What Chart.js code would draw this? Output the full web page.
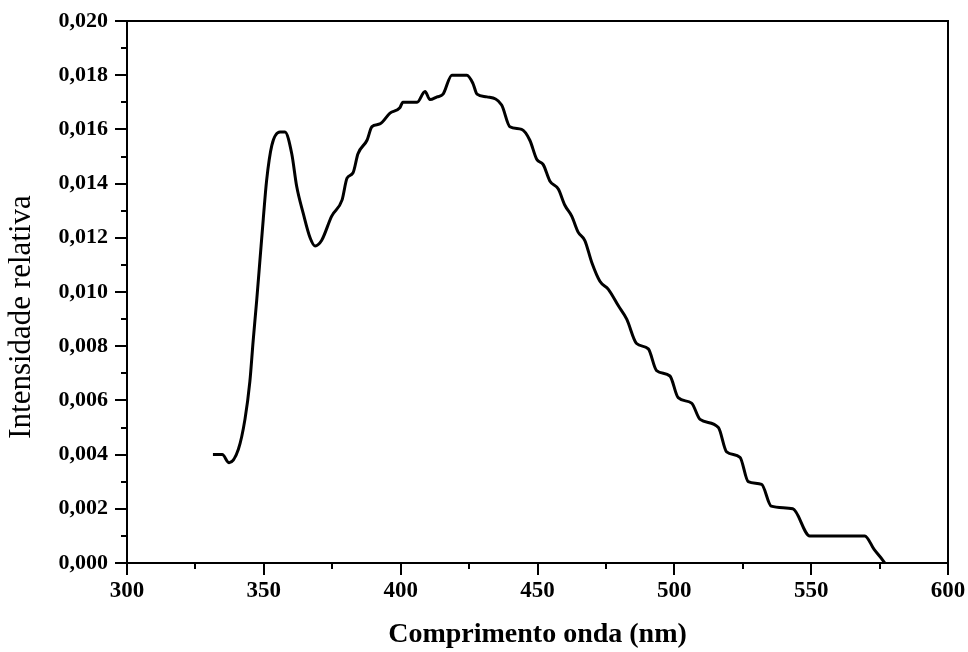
<!DOCTYPE html>
<html>
<head>
<meta charset="utf-8">
<script src="https://cdn.jsdelivr.net/npm/chart.js@4"></script>
<style>
  html, body { margin: 0; padding: 0; background: #fff; }
  #wrap { width: 968px; height: 652px; }
</style>
</head>
<body>
<div id="wrap"><canvas id="spectrum"></canvas></div>
<script>
const wavelength = [
  331.4, 334.8, 337.3, 340.7, 343.1, 344.9, 346.1, 347.4, 348.6, 349.8,
  351.0, 352.9, 355.9, 357.7, 360.2, 362.0, 364.4, 366.9, 368.7, 371.1,
  374.8, 378.6, 380.4, 382.6, 384.4, 387.7, 389.5, 392.4, 396.1, 399.7,
  400.8, 406.0, 408.9, 410.7, 413.3, 415.5, 418.7, 424.2, 426.4, 427.9,
  431.5, 436.9, 439.9, 444.2, 447.2, 449.7, 452.1, 454.5, 457.6, 460.0,
  462.5, 464.9, 467.3, 469.8, 472.8, 475.9, 479.5, 482.6, 486.2, 490.5,
  493.5, 498.4, 501.4, 506.3, 509.4, 516.1, 519.1, 524.0, 527.0, 531.9,
  535.4, 543.3, 549.5, 569.6, 573.0, 576.2, 576.9
];
const intensity = [
  0.0040, 0.0040, 0.0037, 0.0042, 0.0053, 0.0067, 0.0082, 0.0097, 0.0112, 0.0127,
  0.0141, 0.0154, 0.0159, 0.0159, 0.0151, 0.0139, 0.0129, 0.0120, 0.0117, 0.0119,
  0.0128, 0.0134, 0.0142, 0.0144, 0.0151, 0.0156, 0.0161, 0.0162, 0.0166, 0.0168,
  0.0170, 0.0170, 0.0174, 0.0171, 0.0172, 0.0173, 0.0180, 0.0180, 0.0177, 0.0173,
  0.0172, 0.0169, 0.0161, 0.0160, 0.0156, 0.0149, 0.0147, 0.0141, 0.0138, 0.0132,
  0.0128, 0.0122, 0.0119, 0.0111, 0.0104, 0.0101, 0.0095, 0.0090, 0.0081, 0.0079,
  0.0071, 0.0069, 0.0061, 0.0059, 0.0053, 0.0050, 0.0041, 0.0039, 0.0030, 0.0029,
  0.0021, 0.0020, 0.0010, 0.0010, 0.0005, 0.0001, 0.0
];

const xTitle = 'Comprimento onda (nm)';
const yTitle = 'Intensidade relativa';

const points = wavelength.map((w, i) => ({ x: w, y: intensity[i] }));

// box around the plot, outward major/minor ticks, rotated y title
const frame = {
  id: 'frame',
  afterDraw(chart) {
    const { ctx, chartArea: a, scales: { x, y } } = chart;
    ctx.save();
    ctx.strokeStyle = '#000';
    ctx.lineWidth = 2;
    ctx.strokeRect(a.left, a.top, a.right - a.left, a.bottom - a.top);
    ctx.beginPath();
    x.ticks.forEach(t => {
      const px = Math.round(x.getPixelForValue(t.value));
      const len = Math.round(t.value) % 50 === 0 ? 12 : 6;
      ctx.moveTo(px, a.bottom);
      ctx.lineTo(px, a.bottom + len);
    });
    y.ticks.forEach(t => {
      const py = Math.round(y.getPixelForValue(t.value));
      const len = Math.round(t.value * 1000) % 2 === 0 ? 12 : 6;
      ctx.moveTo(a.left, py);
      ctx.lineTo(a.left - len, py);
    });
    ctx.stroke();

    ctx.translate(22, 317);
    ctx.rotate(-Math.PI / 2);
    ctx.fillStyle = '#000';
    ctx.font = '31px "Liberation Serif"';
    ctx.textAlign = 'center';
    ctx.textBaseline = 'middle';
    ctx.fillText(yTitle, 0, 0);
    ctx.restore();
  }
};

new Chart(document.getElementById('spectrum'), {
  type: 'line',
  data: {
    datasets: [{
      data: points,
      borderColor: '#000',
      borderWidth: 3,
      pointRadius: 0,
      cubicInterpolationMode: 'monotone',
      fill: false
    }]
  },
  options: {
    responsive: true,
    maintainAspectRatio: false,
    animation: false,
    layout: { padding: { top: 21, right: 20, left: 0, bottom: 0 } },
    plugins: { legend: { display: false }, tooltip: { enabled: false } },
    scales: {
      x: {
        type: 'linear',
        min: 300,
        max: 600,
        afterFit: s => { s.height = 89; s.paddingLeft = 0; s.paddingRight = 0; },
        grid: { display: false, drawTicks: false },
        border: { display: false },
        ticks: {
          stepSize: 25,
          autoSkip: false,
          maxRotation: 0,
          padding: 14,
          color: '#000',
          font: { family: 'Liberation Serif', size: 23, weight: 'bold' },
          callback: v => (Math.round(v) % 50 === 0 ? String(v) : '')
        },
        title: {
          display: true,
          text: xTitle,
          color: '#000',
          padding: { top: 0, bottom: 0 },
          font: { family: 'Liberation Serif', size: 28, weight: 'bold' }
        }
      },
      y: {
        min: 0,
        max: 0.02,
        afterFit: s => { s.width = 127; s.paddingTop = 0; s.paddingBottom = 0; },
        grid: { display: false, drawTicks: false },
        border: { display: false },
        ticks: {
          stepSize: 0.001,
          autoSkip: false,
          padding: 19,
          color: '#000',
          font: { family: 'Liberation Serif', size: 22, weight: 'bold' },
          callback: v => (Math.round(v * 1000) % 2 === 0 ? v.toFixed(3).replace('.', ',') : '')
        }
      }
    }
  },
  plugins: [frame]
});
</script>
</body>
</html>
